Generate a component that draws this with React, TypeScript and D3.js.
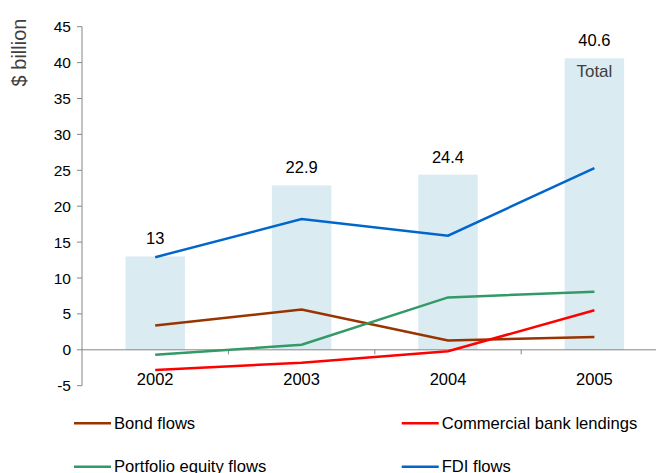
import React from "react";
import * as d3 from "d3";

const years = ["2002", "2003", "2004", "2005"];
const totals = [13, 22.9, 24.4, 40.6];
const totalLabels = ["13", "22.9", "24.4", "40.6"];
const bondFlows = [3.4, 5.6, 1.3, 1.8];
const commercialBank = [-2.8, -1.8, -0.2, 5.5];
const portfolioEquity = [-0.7, 0.7, 7.3, 8.1];
const fdiFlows = [12.9, 18.2, 15.9, 25.3];
const yTicks = [-5, 0, 5, 10, 15, 20, 25, 30, 35, 40, 45];

const seriesNames = ["Bond flows", "Commercial bank lendings", "Portfolio equity flows", "FDI flows"];
const seriesValues = [bondFlows, commercialBank, portfolioEquity, fdiFlows];
const seriesColors = ["#993300", "#FF0000", "#339966", "#0066CC"];

const W = 656;
const H = 473;
const X0 = 82;
const X1 = 667.6;
const Y_TOP = 26.7;
const Y_BOT = 385.7;

export default function App() {
  const y = d3.scaleLinear().domain([-5, 45]).range([Y_BOT, Y_TOP]);
  const xCat = d3.scaleBand<string>().domain(years).range([X0, X1]).padding(0);
  const xBar = d3
    .scaleBand<string>()
    .domain(years)
    .range([X0, X1])
    .paddingInner(0.594)
    .paddingOuter(0.297);
  const cx = (yr: string) => (xCat(yr) as number) + xCat.bandwidth() / 2;
  const line = d3
    .line<number>()
    .x((_, i) => cx(years[i]))
    .y((v) => y(v));

  const font = "'Liberation Sans', Arial, sans-serif";
  const legendPos = [
    { lx: 74, ly: 423.3 },
    { lx: 401.7, ly: 423.3 },
    { lx: 74, ly: 466.7 },
    { lx: 401.7, ly: 466.7 },
  ];

  return (
    <div style={{ position: "absolute", left: 0, top: 0 }}>
      <svg width={W} height={H} style={{ display: "block" }} fontFamily={font}>
        <rect x={0} y={0} width={W} height={H} fill="#ffffff" />
        {/* bars */}
        {years.map((yr, i) => (
          <rect
            key={yr}
            x={xBar(yr)}
            width={xBar.bandwidth()}
            y={y(totals[i])}
            height={y(0) - y(totals[i])}
            fill="#DAEBF2"
          />
        ))}
        {/* total labels */}
        {years.map((yr, i) => (
          <text
            key={"t" + yr}
            x={cx(yr)}
            y={y(totals[i]) - 12}
            textAnchor="middle"
            fontSize={16.5}
            fill="#000"
          >
            {totalLabels[i]}
          </text>
        ))}
        <text x={cx("2005")} y={76.5} textAnchor="middle" fontSize={17} fill="#404040">
          Total
        </text>
        {/* y axis */}
        <line x1={X0} x2={X0} y1={y(45)} y2={y(-5)} stroke="#868686" strokeWidth={1} />
        {yTicks.map((t) => (
          <g key={"yt" + t}>
            <line x1={X0 - 5} x2={X0} y1={y(t)} y2={y(t)} stroke="#868686" strokeWidth={1} />
            <text x={71} y={y(t)} dy="0.36em" textAnchor="end" fontSize={15.5} fill="#000">
              {t}
            </text>
          </g>
        ))}
        {/* x axis */}
        <line x1={X0} x2={X1} y1={y(0)} y2={y(0)} stroke="#868686" strokeWidth={1} />
        {years.slice(1).map((yr) => (
          <line
            key={"xt" + yr}
            x1={xCat(yr)}
            x2={xCat(yr)}
            y1={y(0)}
            y2={y(0) + 4.5}
            stroke="#868686"
            strokeWidth={1}
          />
        ))}
        {years.map((yr) => (
          <text key={"xl" + yr} x={cx(yr)} y={385} textAnchor="middle" fontSize={16.5} fill="#000">
            {yr}
          </text>
        ))}
        {/* lines */}
        {seriesValues.map((vals, i) => (
          <path
            key={"s" + i}
            d={line(vals) as string}
            fill="none"
            stroke={seriesColors[i]}
            strokeWidth={2.5}
          />
        ))}
        {/* y label */}
        <text
          transform={`translate(25.5, 52.5) rotate(-90)`}
          textAnchor="middle"
          fontSize={20}
          fill="#404040"
        >
          $ billion
        </text>
        {/* legend */}
        {seriesNames.map((name, i) => (
          <g key={"lg" + i}>
            <line
              x1={legendPos[i].lx}
              x2={legendPos[i].lx + 37}
              y1={legendPos[i].ly}
              y2={legendPos[i].ly}
              stroke={seriesColors[i]}
              strokeWidth={2.5}
            />
            <text x={legendPos[i].lx + 40} y={legendPos[i].ly + 5.5} fontSize={16.6} fill="#000">
              {name}
            </text>
          </g>
        ))}
      </svg>
    </div>
  );
}
